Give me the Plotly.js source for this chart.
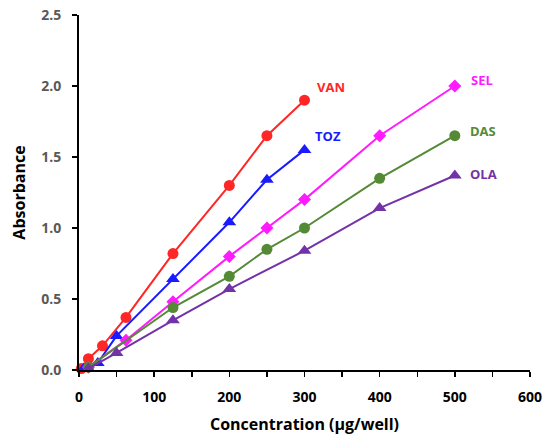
<!DOCTYPE html>
<html>
<head>
<meta charset="utf-8">
<script src="https://cdn.plot.ly/plotly-3.0.1.min.js"></script>
<style>html,body{margin:0;padding:0;background:#fff;}#chart{width:550px;height:440px;}</style>
</head>
<body>
<div id="chart"></div>
<script>
const vanX = [3.125, 12.5, 31.25, 62.5, 125, 200, 250, 300];
const vanY = [0.01, 0.08, 0.17, 0.37, 0.82, 1.30, 1.65, 1.90];
const tozX = [6.25, 25, 50, 125, 200, 250, 300];
const tozY = [0.01, 0.05, 0.24, 0.64, 1.04, 1.34, 1.55];
const selX = [12.5, 62.5, 125, 200, 250, 300, 400, 500];
const selY = [0.02, 0.21, 0.48, 0.80, 1.00, 1.20, 1.65, 2.00];
const dasX = [12.5, 125, 200, 250, 300, 400, 500];
const dasY = [0.02, 0.44, 0.66, 0.85, 1.00, 1.35, 1.65];
const olaX = [12.5, 50, 125, 200, 300, 400, 500];
const olaY = [0.01, 0.12, 0.35, 0.57, 0.84, 1.14, 1.37];

const seriesNames = ['VAN', 'TOZ', 'SEL', 'DAS', 'OLA'];
const labelX = [314, 311, 519, 518, 518];
const labelY = [1.99, 1.65, 2.04, 1.68, 1.38];

const colors = ['#ff2626', '#1a1aff', '#ff1aff', '#548a35', '#7332a8'];
const symbols = ['circle', 'triangle-up', 'diamond', 'circle', 'triangle-up'];
const sizes = [11, 12, 10, 11, 12];
const xs = [vanX, tozX, selX, dasX, olaX];
const ys = [vanY, tozY, selY, dasY, olaY];

const traces = seriesNames.map((n, i) => ({
  x: xs[i], y: ys[i], name: n, type: 'scatter', mode: 'lines+markers',
  line: {color: colors[i], width: 2},
  marker: {color: colors[i], symbol: symbols[i], size: sizes[i]},
  cliponaxis: false
}));

const annotations = seriesNames.map((n, i) => ({
  x: labelX[i], y: labelY[i], xref: 'x', yref: 'y', text: '<b>' + n + '</b>',
  showarrow: false, xanchor: 'left', yanchor: 'middle',
  font: {family: 'Open Sans, Liberation Sans, sans-serif', size: 13, color: colors[i]}
}));

const layout = {
  width: 550, height: 440,
  margin: {l: 79, r: 20, t: 15, b: 70},
  paper_bgcolor: '#fff', plot_bgcolor: '#fff',
  showlegend: false,
  font: {family: 'Open Sans, Liberation Sans, sans-serif'},
  xaxis: {
    range: [0, 600], dtick: 100, tick0: 0,
    showgrid: false, zeroline: false,
    showline: true, linecolor: '#000', linewidth: 2,
    ticks: 'outside', ticklen: 5, tickwidth: 1.5, tickcolor: '#000',
    minor: {dtick: 50, ticks: 'outside', ticklen: 5, tickwidth: 1.5, tickcolor: '#000', showgrid: false},
    ticklabelstandoff: 8,
    tickfont: {size: 14, color: '#000', family: 'Open Sans, sans-serif', weight: 'bold'},
    title: {text: '<b>Concentration (µg/well)</b>', font: {size: 16, color: '#000'}, standoff: 14}
  },
  yaxis: {
    range: [0, 2.5], dtick: 0.5, tick0: 0, tickformat: '.1f',
    showgrid: false, zeroline: false,
    showline: true, linecolor: '#000', linewidth: 2,
    ticks: 'outside', ticklen: 5, tickwidth: 1.5, tickcolor: '#000',
    ticklabelstandoff: 8,
    tickfont: {size: 14, color: '#595959', family: 'Open Sans, sans-serif', weight: 'bold'},
    title: {text: '<b>Absorbance</b>', font: {size: 16, color: '#000'}, standoff: 12}
  },
  annotations: annotations
};

Plotly.newPlot('chart', traces, layout, {staticPlot: true, displayModeBar: false});
</script>
</body>
</html>
